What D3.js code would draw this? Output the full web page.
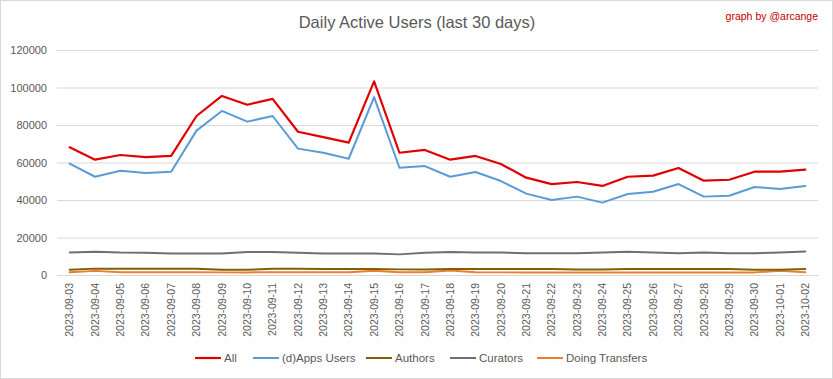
<!DOCTYPE html>
<html>
<head>
<meta charset="utf-8">
<script src="https://cdn.jsdelivr.net/npm/d3@7"></script>
<style>
  body { margin: 0; background: #fff; }
  svg { display: block; font-family: "Liberation Sans", Arial, sans-serif; }
</style>
</head>
<body>
<svg id="chart"></svg>
<script>
// data
const dates = ["2023-09-03","2023-09-04","2023-09-05","2023-09-06","2023-09-07","2023-09-08","2023-09-09","2023-09-10","2023-09-11","2023-09-12","2023-09-13","2023-09-14","2023-09-15","2023-09-16","2023-09-17","2023-09-18","2023-09-19","2023-09-20","2023-09-21","2023-09-22","2023-09-23","2023-09-24","2023-09-25","2023-09-26","2023-09-27","2023-09-28","2023-09-29","2023-09-30","2023-10-01","2023-10-02"];
const allUsers  = [68100,61500,64000,62900,63500,84800,95500,90800,93900,76400,73500,70600,103300,65200,66700,61500,63500,59200,51900,48500,49600,47500,52400,53000,57100,50300,50800,55100,55100,56200];
const appsUsers = [59400,52400,55600,54400,55100,77000,87500,81800,84800,67400,65200,62000,94900,57200,58100,52400,54900,50100,43400,40000,41800,38600,43200,44400,48500,41800,42300,46900,45900,47500];
const authors   = [2800,3400,3300,3300,3300,3300,2800,2800,3300,3300,3200,3200,3200,3000,3000,3200,3200,3200,3200,3200,2900,2900,3200,3200,3200,3200,3200,2800,2800,3200];
const curators  = [12000,12400,12000,11900,11500,11500,11500,12300,12300,11900,11500,11500,11500,11000,11900,12300,12000,12000,11600,11600,11600,12000,12400,12000,11600,12000,11600,11600,12000,12500];
const transfers = [1500,2200,1500,1500,1500,1500,1400,1400,1500,1500,1500,1500,2300,1500,1500,2400,1500,1400,1400,1400,1400,1400,1400,1400,1400,1400,1400,1400,2200,1500];
const yTicks = [0,20000,40000,60000,80000,100000,120000];

const series = [
  { name: "All", values: allUsers, color: "#e00000", width: 2.2 },
  { name: "(d)Apps Users", values: appsUsers, color: "#5b9bd5", width: 2 },
  { name: "Authors", values: authors, color: "#7f6000", width: 2 },
  { name: "Curators", values: curators, color: "#6f6f6f", width: 2 },
  { name: "Doing Transfers", values: transfers, color: "#ed7d31", width: 2 }
];

const W = 833, H = 379;
const svg = d3.select("#chart").attr("width", W).attr("height", H);

// border
svg.append("rect")
  .attr("x", 0.5).attr("y", 0.5)
  .attr("width", W - 1).attr("height", H - 1)
  .attr("fill", "#fff").attr("stroke", "#d9d9d9");

const x = d3.scaleBand().domain(dates).range([57, 818]);
const y = d3.scaleLinear().domain([0, 120000]).range([275, 50]);

// gridlines
svg.append("g")
  .attr("transform", "translate(57,0)")
  .call(d3.axisLeft(y).tickValues(yTicks).tickSize(-761).tickFormat(""))
  .call(g => g.select(".domain").remove())
  .call(g => g.selectAll("line").attr("stroke", "#d9d9d9"));

// y labels
svg.append("g")
  .attr("transform", "translate(47,0)")
  .call(d3.axisLeft(y).tickValues(yTicks).tickSize(0).tickPadding(0).tickFormat(d3.format("d")))
  .call(g => g.select(".domain").remove())
  .call(g => g.selectAll("text")
    .attr("fill", "#595959")
    .style("font-size", "11px")
    .style("font-family", "'Liberation Sans', Arial, sans-serif"));

// x labels
svg.append("g")
  .attr("transform", "translate(0,275)")
  .call(d3.axisBottom(x).tickSize(0).tickPadding(0))
  .call(g => g.select(".domain").remove())
  .call(g => g.selectAll("text")
    .attr("fill", "#595959")
    .style("font-size", "10.5px")
    .style("font-family", "'Liberation Sans', Arial, sans-serif")
    .attr("text-anchor", "end")
    .attr("transform", "rotate(-90)")
    .attr("x", -8).attr("y", 0).attr("dy", "0.35em"));

// lines
const line = d3.line()
  .x((d, i) => x(dates[i]) + x.bandwidth() / 2)
  .y(d => y(d));

[...series].reverse().forEach(s => {
  svg.append("path")
    .datum(s.values)
    .attr("d", line)
    .attr("fill", "none")
    .attr("stroke", s.color)
    .attr("stroke-width", s.width)
    .attr("stroke-linejoin", "round")
    .attr("stroke-linecap", "round");
});

// title
svg.append("text")
  .attr("x", 417).attr("y", 28)
  .attr("text-anchor", "middle")
  .attr("fill", "#595959")
  .style("font-size", "16.5px")
  .text("Daily Active Users (last 30 days)");

svg.append("text")
  .attr("x", 818).attr("y", 20)
  .attr("text-anchor", "end")
  .attr("fill", "#c00000")
  .style("font-size", "10.5px")
  .text("graph by @arcange");

// legend
const legendX = [195, 253, 366, 450, 537];
const legend = svg.append("g").attr("transform", "translate(0,358)");
series.forEach((s, i) => {
  const g = legend.append("g").attr("transform", `translate(${legendX[i]},0)`);
  g.append("line").attr("x1", 0).attr("x2", 26)
    .attr("stroke", s.color).attr("stroke-width", s.width);
  g.append("text").attr("x", 29).attr("dy", "0.35em")
    .attr("fill", "#595959").style("font-size", "11.5px")
    .text(s.name);
});
</script>
</body>
</html>
